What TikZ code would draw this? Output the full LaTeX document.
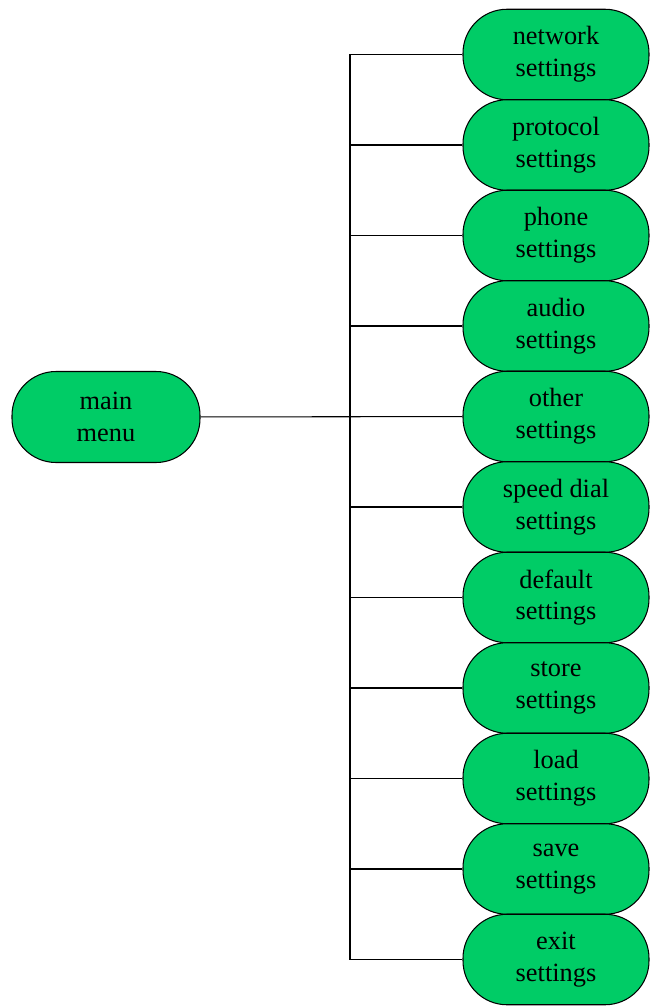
\documentclass[tikz,border=0pt]{standalone}
\usepackage{fontspec}
\setmainfont{Liberation Serif}
\usepackage{tikz}
\definecolor{menugreen}{RGB}{0,204,102}

\begin{document}
\begin{tikzpicture}[line width=0.6pt,
    menubox/.style={draw=black, fill=menugreen, rounded corners=0.88cm,
      minimum width=3.72cm, minimum height=1.81cm, inner sep=0pt,
      align=center, font=\fontsize{15}{18}\selectfont}]

    \useasboundingbox (0,0) rectangle (13,-20.12);

    \node[menubox, minimum width=3.76cm, minimum height=1.82cm] (main) at (2.12, -8.34) {main\\menu};

    \node[menubox] (net) at (11.12, -1.09) {network\\settings};
    \node[menubox] (prot) at (11.12, -2.90) {protocol\\settings};
    \node[menubox] (phone) at (11.12, -4.71) {phone\\settings};
    \node[menubox] (audio) at (11.12, -6.52) {audio\\settings};
    \node[menubox] (other) at (11.12, -8.33) {other\\settings};
    \node[menubox] (speed) at (11.12, -10.14) {speed dial\\settings};
    \node[menubox] (default) at (11.12, -11.95) {default\\settings};
    \node[menubox] (store) at (11.12, -13.76) {store\\settings};
    \node[menubox] (load) at (11.12, -15.57) {load\\settings};
    \node[menubox] (save) at (11.12, -17.38) {save\\settings};
    \node[menubox] (exit) at (11.12, -19.19) {exit\\settings};

    \coordinate (trunk) at (7, 0);

    \draw (main) -- (other);
    \draw (net.west) -- (net.west -| trunk) -- (exit.west -| trunk) -- (exit.west);
    \draw (prot.west) -- (prot.west -| trunk);
    \draw (phone.west) -- (phone.west -| trunk);
    \draw (audio.west) -- (audio.west -| trunk);
    \draw (speed.west) -- (speed.west -| trunk);
    \draw (default.west) -- (default.west -| trunk);
    \draw (store.west) -- (store.west -| trunk);
    \draw (load.west) -- (load.west -| trunk);
    \draw (save.west) -- (save.west -| trunk);

\end{tikzpicture}
\end{document}
